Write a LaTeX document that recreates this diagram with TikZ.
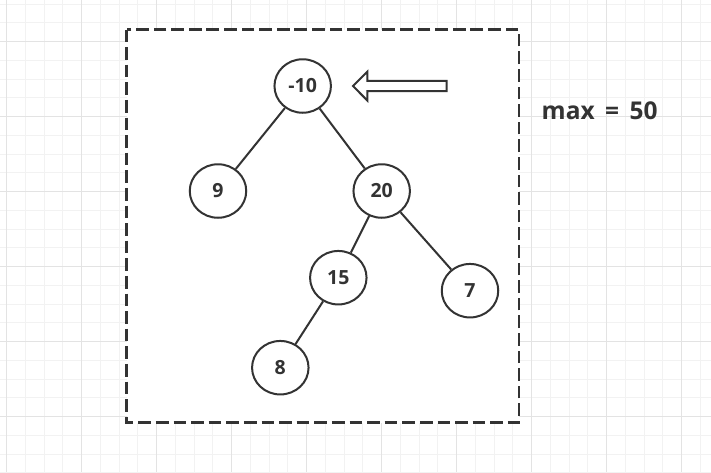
\documentclass[tikz,border=0pt]{standalone}
\usepackage{fontspec}
\setmainfont{Open Sans}
\usetikzlibrary{shapes.geometric}
\definecolor{minorgrid}{HTML}{F2F2F2}
\definecolor{majorgrid}{HTML}{E3E3E3}
\definecolor{ink}{HTML}{333333}
\tikzset{
  minorline/.style={draw=minorgrid, line width=1pt},
  majorline/.style={draw=majorgrid, line width=1pt},
  treenode/.style={ellipse, draw=ink, line width=2pt, fill=white, minimum width=56.5pt, minimum height=53.5pt, inner sep=0pt, font=\fontsize{19.5}{20}\selectfont\bfseries, text=ink},
  treeedge/.style={draw=ink, line width=2pt},
  framebox/.style={draw=ink, line width=2.5pt, dash pattern=on 12.7pt off 4.9pt, fill=white},
  hollowarrow/.style={draw=ink, line width=2pt, fill=white, line join=miter},
  lbl/.style={font=\fontsize{24.5}{26}\selectfont\bfseries, text=ink, inner sep=0pt}
}
\begin{document}
\begin{tikzpicture}[x=1pt,y=-1pt]
\useasboundingbox (0,0) rectangle (711,472);
\fill[white] (0,0) rectangle (711,472);
% grid
\foreach \i in {0,...,37} \draw[minorline] ({6.7+18.75*\i},0) -- ++(0,472);
\foreach \i in {0,...,25} \draw[minorline] (0,{4.2+18.75*\i}) -- ++(711,0);
\foreach \i in {0,...,9} \draw[majorline] ({6.7+75*\i},0) -- ++(0,472);
\foreach \i in {0,...,5} \draw[majorline] (0,{41.7+75*\i}) -- ++(711,0);
% frame
\draw[framebox] (126.5,29.5) rectangle (519,422.5);
% nodes
\node[treenode] (n10) at (302.7,86) {-10};
\node[treenode] (n9) at (218,191) {9};
\node[treenode] (n20) at (381.7,191) {20};
\node[treenode] (n15) at (338.3,277.7) {15};
\node[treenode] (n7) at (470,290.7) {7};
\node[treenode] (n8) at (280.3,367.7) {8};
% edges
\draw[treeedge] (n10) -- (n9);
\draw[treeedge] (n10) -- (n20);
\draw[treeedge] (n20) -- (n15);
\draw[treeedge] (n20) -- (n7);
\draw[treeedge] (n15) -- (n8);
% hollow arrow
\draw[hollowarrow] (353,86) -- (367.3,71.7) -- (367.3,80.8) -- (446.5,80.8) -- (446.5,91) -- (367.3,91) -- (367.3,100.5) -- cycle;
% label
\node[lbl, anchor=base west] (maxlbl) at (541.5,119.3) {max\,\ =\,\ 50};
\end{tikzpicture}
\end{document}
